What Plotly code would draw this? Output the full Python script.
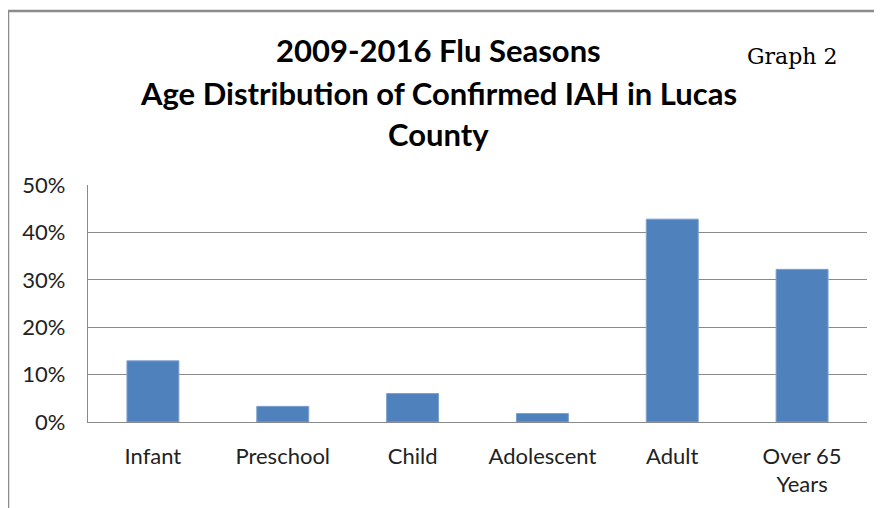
import plotly.graph_objects as go

categories = ["Infant", "Preschool", "Child", "Adolescent", "Adult", "Over 65<br>Years"]
values = [0.129, 0.033, 0.060, 0.018, 0.428, 0.322]
y_ticks = [0, 0.1, 0.2, 0.3, 0.4, 0.5]
title_lines = ["2009-2016 Flu Seasons", "Age Distribution of Confirmed IAH in Lucas", "County"]
graph_label = "Graph 2"

# page body has an 8px margin; figure coordinates = window coordinates - 8
OFF = 8
W, H = 874, 500
L, R, T, B = 80, 15, 177, 86
pw, ph = W - L - R, H - T - B

def px_x(x):
    return (x - OFF - L) / pw

def px_y(y):
    return (H - B - (y - OFF)) / ph

fig = go.Figure(go.Bar(
    x=categories, y=values, width=0.4,
    marker=dict(color="#4F81BD", line=dict(color="#7DA1CE", width=1)),
))

annotations = []
for text, yc in zip(title_lines, [50, 93, 134]):
    annotations.append(dict(text="<b>" + text + "</b>", x=px_x(438), y=px_y(yc),
                            xref="paper", yref="paper", xanchor="center", yanchor="middle",
                            showarrow=False, font=dict(family="Lato", size=31, color="#000")))
annotations.append(dict(text=graph_label, x=px_x(792), y=px_y(57), xref="paper", yref="paper",
                        xanchor="center", yanchor="middle", showarrow=False,
                        font=dict(family="DejaVu Serif", size=22, color="#000")))

fig.update_layout(
    width=W, height=H,
    margin=dict(l=L, r=R, t=T, b=B, pad=0),
    paper_bgcolor="white", plot_bgcolor="white",
    showlegend=False,
    annotations=annotations,
    shapes=[dict(type="path", xref="paper", yref="paper",
                 path=f"M {px_x(8)} {px_y(560)} L {px_x(8)} {px_y(11)} L {px_x(900)} {px_y(11)}",
                 line=dict(color="#8C8C8C", width=2.5))],
    font=dict(family="Lato", size=22, color="#222"),
)
fig.update_yaxes(range=[0, 0.5], tickvals=y_ticks, tickformat=".0%",
                 showgrid=True, gridcolor="#8A8A8A", gridwidth=1.3,
                 showline=True, linecolor="#8A8A8A", linewidth=1.3,
                 zeroline=False, ticks="", ticklabelstandoff=17,
                 tickfont=dict(family="Lato", size=22, color="#222"))
fig.update_xaxes(showline=True, linecolor="#8A8A8A", linewidth=1.3, ticks="",
                 ticklabelstandoff=14, tickangle=0,
                 tickfont=dict(family="Lato", size=22, color="#222"))

fig.write_html("out.html")
